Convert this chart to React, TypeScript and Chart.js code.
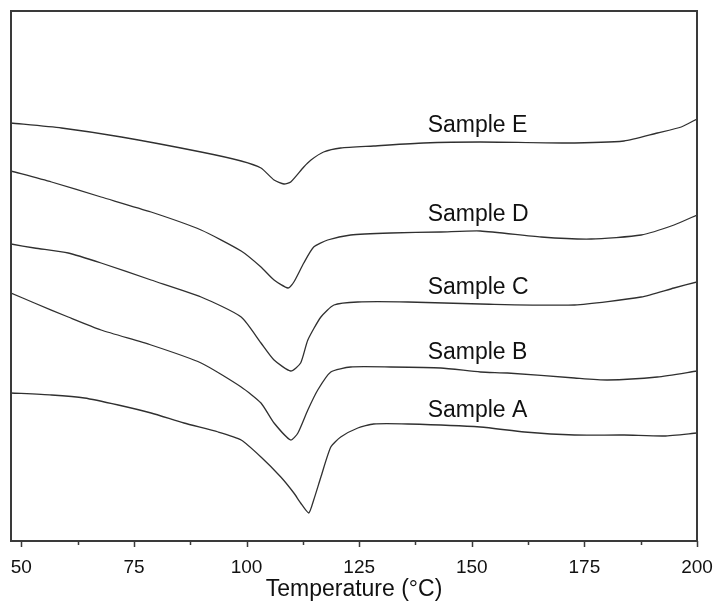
import React, { useEffect, useRef } from 'react';
import { Chart, registerables } from 'chart.js';

Chart.register(...registerables);

// Sample curves (temperature in °C, heat flow in arbitrary units, offset curves)
const tempE = [47.7, 58.9, 72.2, 89.9, 98.8, 103.2, 106.1, 108.3, 109.8, 112.7, 114.3, 117.1, 120.9, 128.2, 139.3, 151.9, 170.5, 183.8, 191.2, 196.5, 200];
const heatE = [4.18, 4.13, 4.04, 3.89, 3.80, 3.73, 3.61, 3.57, 3.59, 3.74, 3.81, 3.89, 3.93, 3.95, 3.98, 3.99, 3.98, 4.00, 4.08, 4.14, 4.22];

const tempD = [47.7, 56.7, 67.7, 78.8, 89.9, 98.8, 103.2, 106.1, 109.2, 110.5, 112.7, 114.9, 118.0, 123.1, 132.0, 143.1, 151.9, 165.4, 176.5, 187.6, 194.9, 200];
const heatD = [3.70, 3.59, 3.44, 3.29, 3.11, 2.90, 2.74, 2.61, 2.53, 2.59, 2.78, 2.94, 3.01, 3.06, 3.08, 3.09, 3.10, 3.04, 3.02, 3.06, 3.16, 3.26];

const tempC = [47.7, 52.9, 60.4, 67.7, 78.8, 89.9, 98.8, 103.2, 106.1, 109.8, 112.0, 113.6, 116.5, 119.4, 124.7, 135.8, 151.9, 172.8, 187.6, 194.9, 200];
const heatC = [2.97, 2.93, 2.88, 2.78, 2.61, 2.44, 2.24, 1.98, 1.81, 1.70, 1.78, 2.01, 2.24, 2.36, 2.39, 2.39, 2.37, 2.36, 2.44, 2.53, 2.59];

const tempB = [47.7, 52.9, 60.4, 67.7, 78.8, 89.9, 98.8, 103.2, 106.1, 109.8, 111.4, 113.6, 115.8, 118.7, 123.1, 132.0, 143.1, 151.9, 157.9, 172.8, 180.1, 191.2, 200];
const heatB = [2.48, 2.38, 2.24, 2.11, 1.96, 1.78, 1.54, 1.38, 1.18, 1.01, 1.08, 1.31, 1.51, 1.69, 1.74, 1.74, 1.73, 1.69, 1.68, 1.63, 1.61, 1.64, 1.70];

const tempA = [47.7, 56.7, 64.0, 71.5, 78.8, 86.1, 93.7, 98.8, 103.2, 107.6, 110.5, 112.0, 113.8, 114.9, 116.5, 118.7, 120.9, 124.7, 128.2, 135.8, 151.9, 161.7, 172.8, 183.8, 192.7, 200];
const heatA = [1.48, 1.46, 1.43, 1.36, 1.28, 1.18, 1.09, 1.01, 0.84, 0.64, 0.48, 0.38, 0.28, 0.41, 0.64, 0.94, 1.04, 1.13, 1.17, 1.17, 1.14, 1.09, 1.06, 1.06, 1.05, 1.08];

const sampleNames = ['Sample E', 'Sample D', 'Sample C', 'Sample B', 'Sample A'];
const labelTemp = 140.2;
const labelHeat = [4.09, 3.20, 2.47, 1.82, 1.24];

const majorTicks = [50, 75, 100, 125, 150, 175, 200];
const minorTicks = [62.5, 87.5, 112.5, 137.5, 162.5, 187.5];

const xTitle = 'Temperature (°C)';
const FONT = '"Liberation Sans", Arial, sans-serif';

const toPoints = (xs: number[], ys: number[]) => xs.map((x, i) => ({ x, y: ys[i] }));

const framePlugin = {
  id: 'frame',
  afterDatasetsDraw(chart: any) {
    const { ctx, chartArea, scales } = chart;
    const { left, right, top, bottom } = chartArea;
    const x = scales.x;
    const y = scales.y;
    ctx.save();
    ctx.strokeStyle = '#3a3a3a';
    ctx.lineWidth = 2;
    ctx.strokeRect(left, top, right - left, bottom - top);
    ctx.lineWidth = 1.5;
    ctx.beginPath();
    majorTicks.forEach((v) => {
      const px = Math.round(x.getPixelForValue(v)) + 0.5;
      ctx.moveTo(px, bottom);
      ctx.lineTo(px, bottom + 6);
    });
    minorTicks.forEach((v) => {
      const px = Math.round(x.getPixelForValue(v)) + 0.5;
      ctx.moveTo(px, bottom);
      ctx.lineTo(px, bottom + 4);
    });
    ctx.stroke();
    ctx.font = '23px ' + FONT;
    ctx.fillStyle = '#111';
    ctx.textAlign = 'left';
    ctx.textBaseline = 'alphabetic';
    sampleNames.forEach((name, i) => {
      ctx.fillText(name, x.getPixelForValue(labelTemp), y.getPixelForValue(labelHeat[i]));
    });
    ctx.restore();
  },
};

export default function App() {
  const ref = useRef<HTMLCanvasElement | null>(null);
  useEffect(() => {
    if (!ref.current) return;
    const line = (data: { x: number; y: number }[], label: string) => ({
      label,
      data,
      borderColor: '#303030',
      borderWidth: 1.3,
      pointRadius: 0,
      tension: 0.2,
      fill: false,
    });
    const chart = new Chart(ref.current, {
      type: 'line',
      data: {
        datasets: [
          line(toPoints(tempE, heatE), sampleNames[0]),
          line(toPoints(tempD, heatD), sampleNames[1]),
          line(toPoints(tempC, heatC), sampleNames[2]),
          line(toPoints(tempB, heatB), sampleNames[3]),
          line(toPoints(tempA, heatA), sampleNames[4]),
        ],
      },
      options: {
        animation: false,
        responsive: false,
        layout: { padding: { left: 11, top: 11, right: 17, bottom: 0 } },
        plugins: { legend: { display: false }, tooltip: { enabled: false } },
        scales: {
          x: {
            type: 'linear',
            min: 47.7,
            max: 200,
            grid: { display: false },
            border: { display: false },
            afterBuildTicks: (scale: any) => {
              scale.ticks = majorTicks.map((v) => ({ value: v }));
            },
            afterFit: (scale: any) => {
              scale.height = 63;
              scale.paddingLeft = 0;
              scale.paddingRight = 0;
            },
            ticks: {
              padding: 7,
              color: '#111',
              font: { family: FONT, size: 19 },
              maxRotation: 0,
              autoSkip: false,
            },
            title: {
              display: true,
              text: xTitle,
              color: '#111',
              font: { family: FONT, size: 23 },
              padding: { top: 0, bottom: 1 },
            },
          },
          y: {
            type: 'linear',
            min: 0,
            max: 5.3,
            display: false,
          },
        },
      },
      plugins: [framePlugin],
    });
    return () => chart.destroy();
  }, []);
  return (
    <div style={{ position: 'fixed', left: 0, top: 0, width: 714, height: 604, background: '#fff' }}>
      <canvas ref={ref} width={714} height={604} />
    </div>
  );
}
